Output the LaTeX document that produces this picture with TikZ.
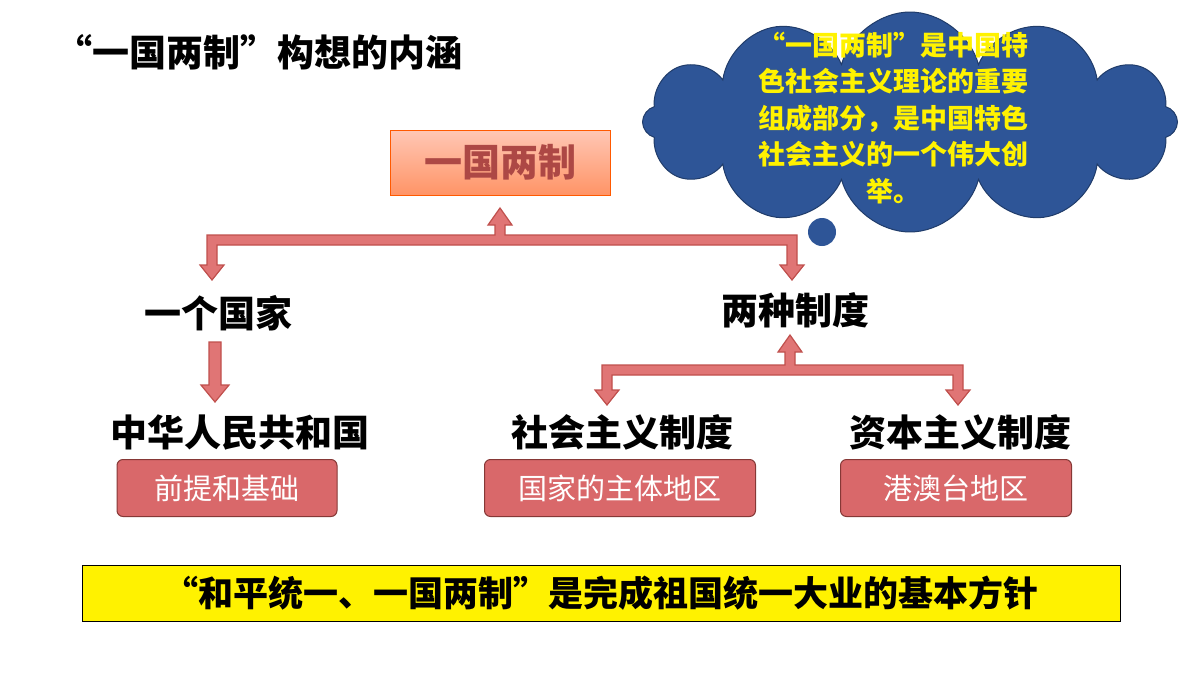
\documentclass[tikz,border=0pt]{standalone}
\usepackage{fontspec}
\setmainfont{Noto Sans CJK SC}
\usetikzlibrary{shapes.symbols}
\definecolor{arr}{HTML}{E07575}
\definecolor{arrd}{HTML}{C0504D}
\definecolor{cl}{HTML}{2E5597}
\definecolor{bx}{HTML}{D9686A}
\begin{document}
\begin{tikzpicture}[x=1pt,y=-1pt,
 arrow/.style={fill=arr,draw=arrd,line width=1.2pt,line join=miter},
 lbl/.style={font=\fontsize{37}{40}\selectfont\bfseries,text=black},
 rb/.style={fill=bx,draw=arrd!70!black,rounded corners=6pt,line width=1pt,text=white,font=\fontsize{29}{32}\selectfont,minimum height=57pt}]
\useasboundingbox (0,0) rectangle (1200,675);
\fill[white] (0,0) rectangle (1200,675);
\node[font=\fontsize{37}{40}\selectfont\bfseries,anchor=west] (title) at (52,52) {“一国两制”构想的内涵};
% cloud
\node[cloud,cloud puffs=12,aspect=2.4,fill=cl,draw=cl!70!black,line width=1pt,minimum width=535pt,minimum height=220pt] (cloud) at (910,122) {};
\fill[cl] (822,232) circle (14);
\node[text=yellow,font=\fontsize{27}{36.5}\selectfont\bfseries,align=center] (ctext) at (893,118) {“一国两制”是中国特\\色社会主义理论的重要\\组成部分，是中国特色\\社会主义的一个伟大创\\举。};
% top box
\shade[top color=white!60!orange!70!red!50, bottom color=orange!60!red!60,draw=orange!70!red] (390,130) rectangle (610,195);
\node[font=\fontsize{38}{42}\selectfont\bfseries,text=arrd!90!black] (yg) at (500,162) {一国两制};
% arrows
\draw[arrow] (207,245)--(207,265)--(200,265)--(212,280)--(224,265)--(217,265)--(217,245)--(787,245)--(787,265)--(780,265)--(792,280)--(804,265)--(797,265)--(797,235)--(505,235)--(505,225)--(512,225)--(500,208)--(488,225)--(495,225)--(495,235)--(207,235)--cycle;
\draw[arrow] (602,375)--(602,390)--(595,390)--(607,405)--(619,390)--(612,390)--(612,375)--(953,375)--(953,390)--(946,390)--(958,405)--(970,390)--(963,390)--(963,365)--(795,365)--(795,352)--(802,352)--(790,335)--(778,352)--(785,352)--(785,365)--(602,365)--cycle;
\draw[arrow] (209,342)--(221,342)--(221,385)--(229,385)--(215,402)--(201,385)--(209,385)--cycle;
% labels
\node[lbl] (gj) at (218,313) {一个国家};
\node[lbl] (zd) at (795,310) {两种制度};
\node[lbl] (zh) at (240,432) {中华人民共和国};
\node[lbl] (sh) at (622,432) {社会主义制度};
\node[lbl] (zb) at (960,432) {资本主义制度};
\node[rb,minimum width=220pt] (b1) at (227,488) {前提和基础};
\node[rb,minimum width=271pt] (b2) at (620,488) {国家的主体地区};
\node[rb,minimum width=231pt] (b3) at (956,488) {港澳台地区};
% bottom
\node[fill=yellow,draw=black,line width=1pt,minimum width=1038pt,minimum height=56pt,font=\fontsize{35}{38}\selectfont\bfseries] (bot) at (601,593) {“和平统一、一国两制”是完成祖国统一大业的基本方针};
\end{tikzpicture}
\end{document}
